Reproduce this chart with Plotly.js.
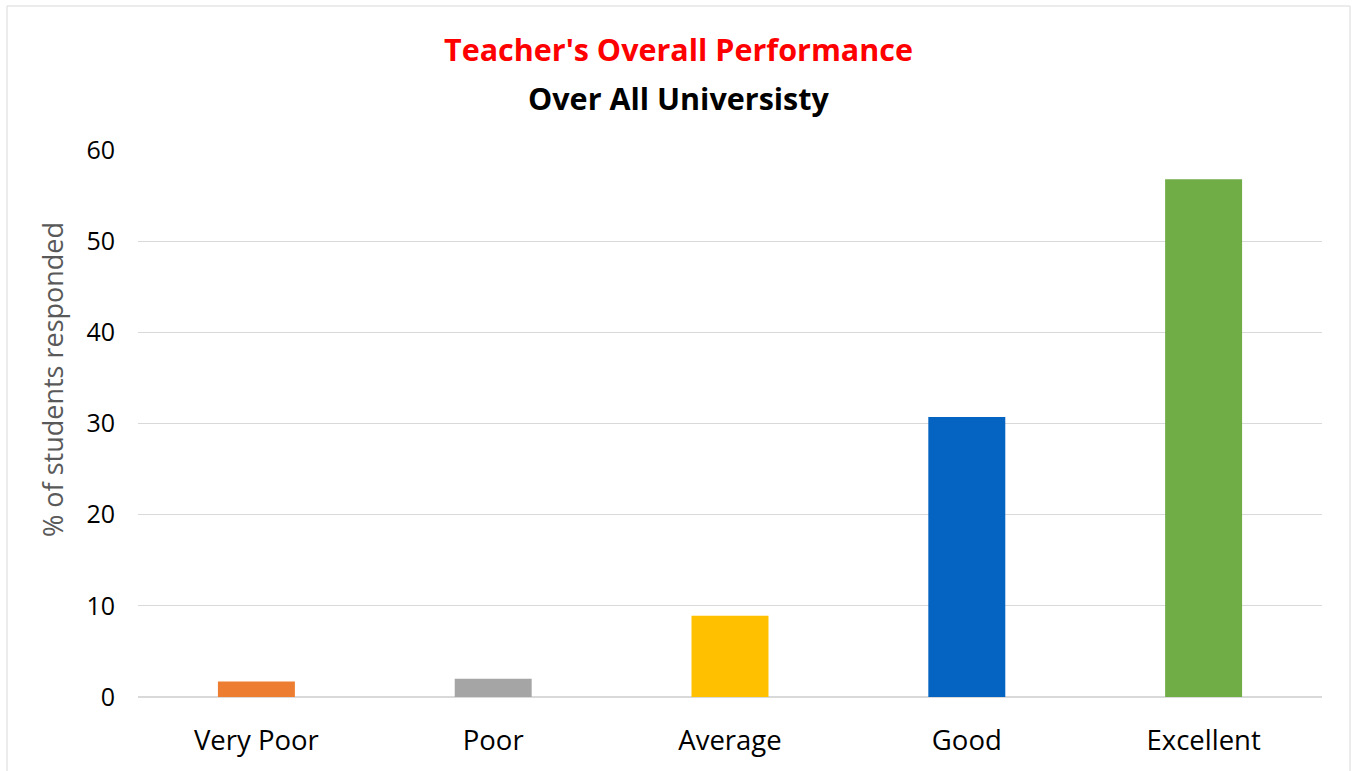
<!DOCTYPE html>
<html>
<head>
<meta charset="utf-8">
<script src="https://cdn.plot.ly/plotly-3.0.1.min.js"></script>
<style>
html,body{margin:0;padding:0;background:#fff;}
#chart{width:1357px;height:771px;}
</style>
</head>
<body>
<div id="chart"></div>
<script>
const categories = ["Very Poor", "Poor", "Average", "Good", "Excellent"];
const values = [1.7, 2.0, 8.9, 30.7, 56.8];
const barColors = ["#ED7D31", "#A5A5A5", "#FFC000", "#0563C1", "#70AD47"];
const yTicks = [0, 10, 20, 30, 40, 50, 60];
const titleMain = "Teacher's Overall Performance";
const titleSub = "Over All Universisty";
const yTitle = "% of students responded";

const FONT = "Open Sans, Noto Sans, sans-serif";
const W = 1357, H = 771, L = 138, R = 35, T = 150, B = 74;
const pw = W - L - R, ph = H - T - B;
const px = x => (x - L) / pw;          // pixel -> paper x
const py = y => (H - B - y) / ph;      // pixel -> paper y

const trace = {
  type: "bar",
  x: categories,
  y: values,
  marker: {color: barColors, line: {width: 0}},
  hoverinfo: "x+y"
};

const layout = {
  width: W,
  height: H,
  paper_bgcolor: "#ffffff",
  plot_bgcolor: "#ffffff",
  margin: {l: L, r: R, t: T, b: B},
  bargap: 0.675,
  showlegend: false,
  font: {family: FONT, color: "#000000"},
  title: {
    text: "<b>" + titleMain + "</b>",
    font: {family: FONT, size: 30.5, color: "#FF0000"},
    x: 0.5, xanchor: "center",
    y: 1 - 50 / H, yanchor: "middle"
  },
  annotations: [{
    text: "<b>" + titleSub + "</b>",
    xref: "paper", yref: "paper",
    x: px(W / 2), y: py(98),
    xanchor: "center", yanchor: "middle",
    showarrow: false,
    font: {family: FONT, size: 30.5, color: "#000000"}
  }, {
    text: yTitle,
    xref: "paper", yref: "paper",
    x: px(52), y: py(380),
    xanchor: "center", yanchor: "middle",
    textangle: -90,
    showarrow: false,
    font: {family: FONT, size: 27, color: "#595959"}
  }],
  xaxis: {
    type: "category",
    showgrid: false,
    zeroline: false,
    showline: false,
    ticks: "",
    ticklabelstandoff: 24,
    tickfont: {family: FONT, size: 27.5, color: "#000000"},
    fixedrange: true
  },
  yaxis: {
    range: [0, 60],
    tickvals: yTicks,
    ticktext: yTicks.map(String),
    showgrid: true,
    gridcolor: "#d9d9d9",
    gridwidth: 1,
    zeroline: true,
    zerolinecolor: "#d9d9d9",
    zerolinewidth: 1.5,
    showline: false,
    ticks: "",
    ticklabelstandoff: 22,
    tickfont: {family: FONT, size: 25, color: "#000000"},
    fixedrange: true
  },
  shapes: [{
    type: "rect",
    xref: "paper", yref: "paper",
    x0: px(7), x1: px(1350),
    y0: py(775), y1: py(6),
    line: {color: "#d9d9d9", width: 1},
    fillcolor: "rgba(0,0,0,0)",
    layer: "below"
  }]
};

Plotly.newPlot("chart", [trace], layout, {displayModeBar: false, staticPlot: true});
</script>
</body>
</html>
